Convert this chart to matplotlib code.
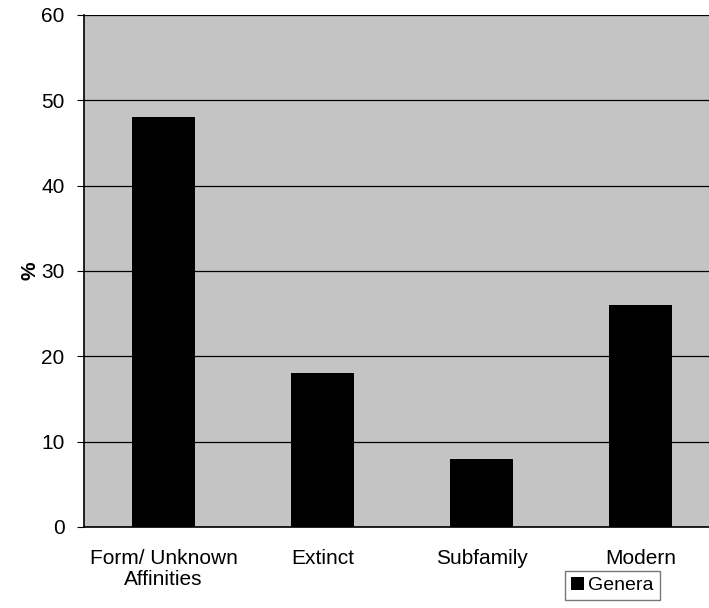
import matplotlib
matplotlib.use("Agg")
import matplotlib.pyplot as plt
import numpy as np

# --- Data ---
categories = ["Form/ Unknown\nAffinities", "Extinct", "Subfamily", "Modern"]
genera_pct = [48, 18, 8, 26]
y_ticks = [0, 10, 20, 30, 40, 50, 60]

plt.rcParams['font.family'] = ['Liberation Sans', 'DejaVu Sans']

fig = plt.figure(figsize=(7.09, 6.08), dpi=100)
ax = fig.add_axes([84 / 709, 81 / 608, 636 / 709, 512 / 608])

x = np.arange(len(categories))
ax.bar(x, genera_pct, width=0.4, color="black", label="Genera", zorder=3)

ax.set_facecolor("#c4c4c4")
ax.set_xlim(-0.5, len(categories) - 0.5)
ax.set_ylim(0, 60)
ax.set_yticks(y_ticks)
ax.yaxis.grid(True, color="black", linewidth=0.9, zorder=1)
ax.set_axisbelow(True)

ax.set_xticks(x)
ax.set_xticklabels(categories, fontsize=15, linespacing=1.15)
ax.tick_params(axis="x", length=0, pad=16)
ax.tick_params(axis="y", labelsize=15, length=5, direction="out", pad=9)
ax.set_ylabel("%", fontsize=15, fontweight="bold")
ax.yaxis.set_label_coords(-0.07, 0.5)

for side in ["top", "right"]:
    ax.spines[side].set_visible(False)
ax.spines["left"].set_linewidth(1.2)
ax.spines["bottom"].set_linewidth(1.2)

fig.legend(loc="lower left", bbox_to_anchor=(565 / 709, 8 / 608), fontsize=14,
           frameon=True, fancybox=False, edgecolor="#555555", handlelength=0.7,
           handleheight=0.7, handletextpad=0.2, borderpad=0.3, borderaxespad=0)

fig.savefig("out.png", dpi=100)
